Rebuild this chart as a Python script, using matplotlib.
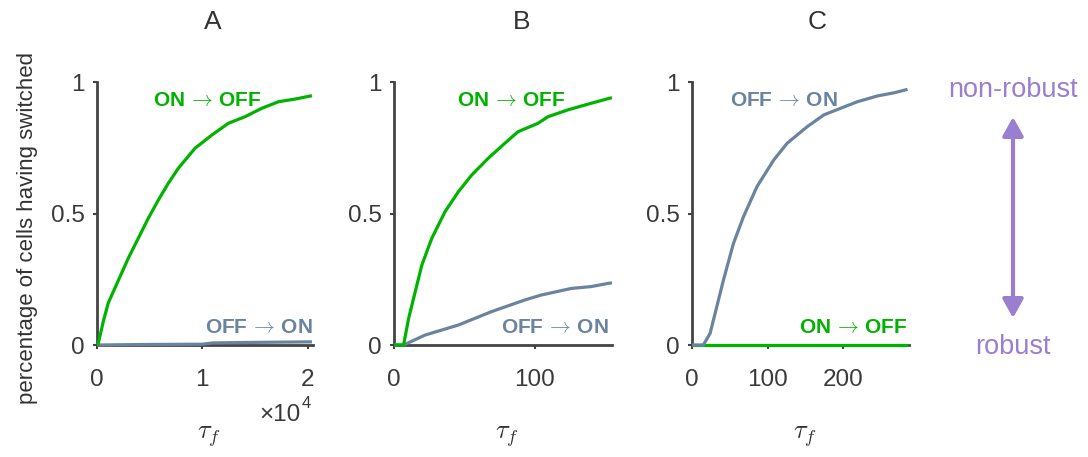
import numpy as np
import matplotlib.pyplot as plt
from matplotlib.patches import FancyArrowPatch

# ---- data ----
# panel A (tau in units of 1e4)
tauA_on_off = [0, 0.012, 0.06, 0.107, 0.202, 0.297, 0.392, 0.487, 0.582, 0.677, 0.772, 0.93,
               1.089, 1.247, 1.405, 1.564, 1.722, 1.88, 2.04]
fracA_on_off = [0, 0.006, 0.09, 0.16, 0.245, 0.33, 0.406, 0.482, 0.551, 0.615, 0.672, 0.748,
                0.798, 0.843, 0.868, 0.90, 0.925, 0.935, 0.948]
tauA_off_on = [0, 0.5, 1.0, 1.1, 1.5, 2.04]
fracA_off_on = [0, 0.002, 0.003, 0.008, 0.010, 0.012]

# panel B
tauB_on_off = [0, 6.8, 10.4, 15.1, 19.8, 26.9, 36.3, 45.8, 55.2, 67, 78.8, 88.2, 102.4,
               109.5, 123.6, 140.1, 153.1, 155]
fracB_on_off = [0, 0, 0.101, 0.203, 0.304, 0.406, 0.507, 0.583, 0.646, 0.71, 0.767, 0.811,
                0.843, 0.868, 0.894, 0.919, 0.938, 0.94]
tauB_off_on = [0, 6.8, 22.2, 45.8, 69.4, 92.9, 104.7, 126, 140, 153, 155]
fracB_off_on = [0, 0, 0.038, 0.076, 0.127, 0.171, 0.19, 0.215, 0.222, 0.235, 0.236]

# panel C
tauC_off_on = [0, 15, 23.9, 32.8, 41.6, 54.9, 68.1, 85.9, 108, 125.8, 152.3, 174.4, 196.5,
               218.7, 245.3, 267.4, 285.1]
fracC_off_on = [0, 0, 0.044, 0.146, 0.247, 0.387, 0.488, 0.602, 0.703, 0.767, 0.83, 0.875,
                0.90, 0.925, 0.947, 0.959, 0.972]
tauC_on_off = [0, 286]
fracC_on_off = [0, 0]

xlims = [2.05, 155, 287]
xticks = [[0, 1, 2], [0, 100], [0, 100, 200]]
titles = ['A', 'B', 'C']
title_x = [213, 522, 817]

green = '#00b300'
slate = '#6a84a0'
purple = '#9a7ecf'
axcol = '#444444'

plt.rcParams['font.family'] = ['Liberation Sans', 'DejaVu Sans']
plt.rcParams['mathtext.fontset'] = 'cm'

fig = plt.figure(figsize=(10.88, 4.57), dpi=100)
W, H = 1088, 457
lefts = [97, 394, 692]
widths = [216, 218, 217]
axes = []
for l, w in zip(lefts, widths):
    ax = fig.add_axes([l / W, 1 - 345 / H, w / W, 263 / H])
    axes.append(ax)

series = [
    [(tauA_off_on, fracA_off_on, slate), (tauA_on_off, fracA_on_off, green)],
    [(tauB_off_on, fracB_off_on, slate), (tauB_on_off, fracB_on_off, green)],
    [(tauC_on_off, fracC_on_off, green), (tauC_off_on, fracC_off_on, slate)],
]
on_off = r'ON$\,\rightarrow\,$OFF'
off_on = r'OFF$\,\rightarrow\,$ON'
labels = [
    [(on_off, green, 0.509, 'center'), (off_on, slate, 1.0, 'right')],
    [(on_off, green, 0.537, 'center'), (off_on, slate, 0.986, 'right')],
    [(off_on, slate, 0.424, 'center'), (on_off, green, 0.991, 'right')],
]

for i, ax in enumerate(axes):
    for xs, ys, c in series[i]:
        ax.plot(xs, ys, color=c, lw=2.3, solid_capstyle='butt', zorder=3, clip_on=False)
    ax.set_xlim(0, xlims[i])
    ax.set_ylim(0, 1)
    ax.set_xticks(xticks[i])
    ax.set_yticks([0, 0.5, 1])
    ax.set_yticklabels(['0', '0.5', '1'])
    for s in ['top', 'right']:
        ax.spines[s].set_visible(False)
    for s in ['left', 'bottom']:
        ax.spines[s].set_color(axcol)
        ax.spines[s].set_linewidth(2)
    ax.tick_params(axis='both', direction='out', length=3, width=1.5, color=axcol,
                   labelcolor='#3a3a3a', labelsize=17.5)
    ax.tick_params(axis='y', pad=6)
    ax.tick_params(axis='x', pad=14)
    (t1, c1, x1, h1), (t2, c2, x2, h2) = labels[i]
    ax.text(x1, 0.93, t1, color=c1, ha=h1, va='center', fontsize=15, fontweight='bold',
            transform=ax.transAxes)
    ax.text(x2, 0.065, t2, color=c2, ha=h2, va='center', fontsize=15, fontweight='bold',
            transform=ax.transAxes)
    cx = (lefts[i] + widths[i] / 2) / W
    fig.text(cx + 0.004, 1 - 437 / H, r'$\tau_f$', ha='center', va='center', fontsize=19,
             color='#333333')
    fig.text(title_x[i] / W, 1 - 22 / H, titles[i], ha='center', va='center', fontsize=19,
             color='#333333')

# x10^4 multiplier for panel A
fig.text(301 / W, 1 - 415 / H, '\u00d710', ha='right', va='center', fontsize=17.5, color='#3a3a3a')
fig.text(302 / W, 1 - 404 / H, '4', ha='left', va='center', fontsize=12, color='#3a3a3a')

fig.text(28 / W, 1 - 228 / H, 'percentage of cells having switched', rotation=90,
         ha='center', va='center', fontsize=16, color='#333333')

# robustness scale on the right
fig.text(1013 / W, 1 - 90 / H, 'non-robust', ha='center', va='center', fontsize=19.5, color=purple)
fig.text(1013 / W, 1 - 347 / H, 'robust', ha='center', va='center', fontsize=19.5, color=purple)
arr = FancyArrowPatch((1013 / W, 1 - 318 / H), (1013 / W, 1 - 117 / H), transform=fig.transFigure,
                      arrowstyle='<|-|>,head_length=0.45,head_width=0.25', mutation_scale=25,
                      color=purple, lw=3, shrinkA=0, shrinkB=0)
fig.patches.append(arr)

fig.savefig('out.png', dpi=100)
